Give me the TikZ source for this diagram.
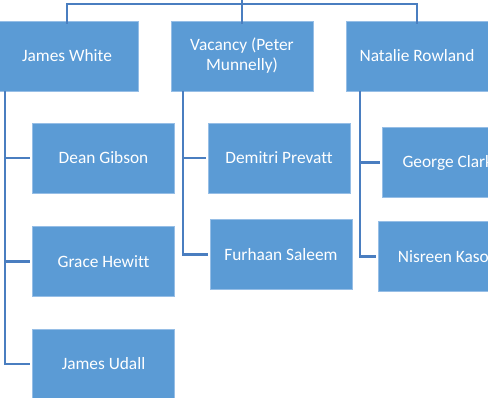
\documentclass[tikz,border=0pt]{standalone}
\usepackage{fontspec}
\setmainfont{Carlito}[Ligatures=NoCommon]
\usepackage{xcolor}
\usepackage{tikz}

\definecolor{boxblue}{RGB}{91,155,213}
\definecolor{edgeblue}{RGB}{150,190,230}
\definecolor{linkblue}{RGB}{74,126,192}

\begin{document}
\begin{tikzpicture}[x=0.75pt,y=0.75pt,yscale=-1,xscale=1,
	person/.style={draw=edgeblue,line width=0.6pt,fill=boxblue,text=white,
		minimum width=106.5pt,minimum height=52.5pt,inner sep=0pt,align=center,
		font=\fontsize{13}{15}\selectfont},
	link/.style={draw=linkblue,line width=1.6pt}]
	
	\useasboundingbox (0,0) rectangle (488,398);
	\clip (0,0) rectangle (488,398);
	
	%Shape: Rectangle (top row)
	\node [person] (jw) at (67,56) {James White};
	\node [person] (vp) at (242,56) {Vacancy (Peter\\Munnelly)};
	\node [person] (nr) at (417,56) {Natalie Rowland};
	
	%Shape: Rectangle (under James White)
	\node [person,minimum width=107pt] (dg) at (103.5,158) {Dean Gibson};
	\node [person,minimum width=107pt] (gh) at (103.5,261.5) {Grace Hewitt};
	\node [person,minimum width=107pt] (ju) at (103.5,364) {James Udall};
	
	%Shape: Rectangle (under Vacancy)
	\node [person] (dp) at (279,158) {Demitri Prevatt};
	\node [person] (fs) at (281,254.5) {Furhaan Saleem};
	
	%Shape: Rectangle (under Natalie Rowland)
	\node [person] (gc) at (453,162.5) {};
	\node [person] (nk) at (449,256.5) {};
	% Text Node
	\node [anchor=west,text=white,inner sep=0pt,font=\fontsize{13}{15}\selectfont] (gcname) at ([xshift=15.5pt]gc.west) {George Clark};
	% Text Node
	\node [anchor=west,text=white,inner sep=0pt,font=\fontsize{13}{15}\selectfont] (nkname) at ([xshift=15pt]nk.west) {Nisreen Kaso};
	
	%Straight Lines (top bus)
	\coordinate (top) at (242,0);
	\coordinate (bus) at (242,4);
	\draw [link] ([yshift=2.5pt]jw.north) |- (bus) -| ([yshift=2.5pt]nr.north);
	\draw [link] (top) -- ([yshift=2.5pt]vp.north);
	
	%Straight Lines (James White)
	\draw [link] ([xshift=7pt]jw.south west) |- ([xshift=-1.5pt]dg.west);
	\draw [link] ([xshift=7pt]jw.south west) |- ([xshift=-1.5pt]gh.west);
	\draw [link] ([xshift=7pt]jw.south west) |- ([xshift=-1.5pt]ju.west);
	
	%Straight Lines (Vacancy)
	\draw [link] ([xshift=9.5pt]vp.south west) |- ([xshift=-1.5pt]dp.west);
	\draw [link] ([xshift=9.5pt]vp.south west) |- ([xshift=-1.5pt]fs.west);
	
	%Straight Lines (Natalie Rowland)
	\draw [link] ([xshift=10.5pt]nr.south west) |- ([xshift=-1.5pt]gc.west);
	\draw [link] ([xshift=10.5pt]nr.south west) |- ([xshift=-1.5pt]nk.west);
	
\end{tikzpicture}
\end{document}
